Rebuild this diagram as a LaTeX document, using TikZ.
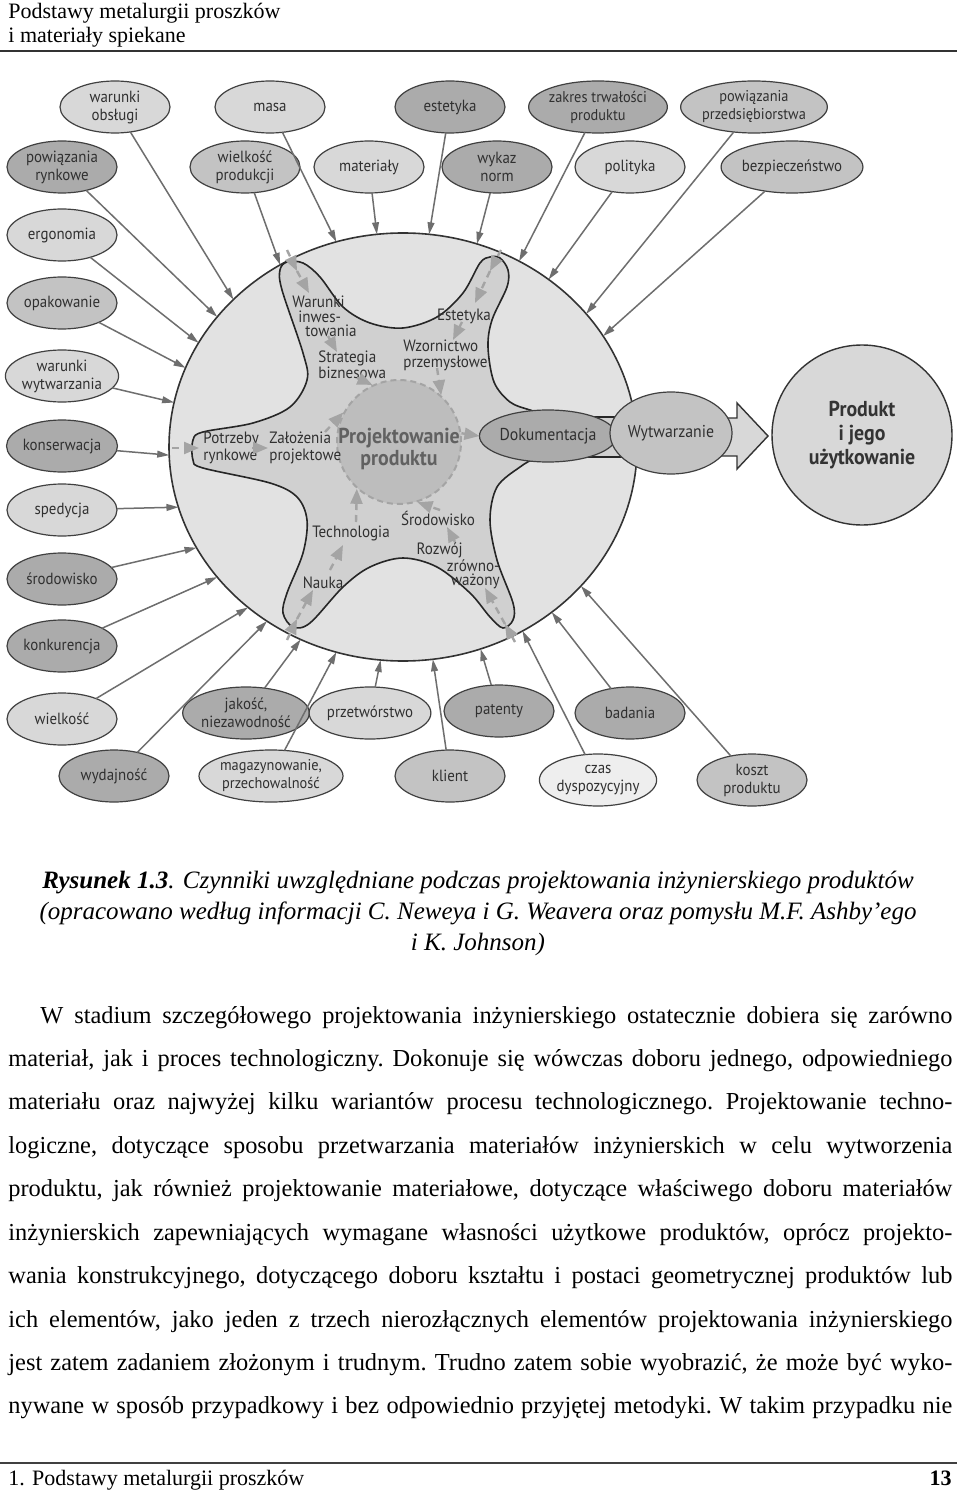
\documentclass[tikz,border=0pt]{standalone}
\usepackage{fontspec}
\setmainfont{Liberation Serif}
\newfontfamily\labf[FakeStretch=0.92]{PT Sans}
\usetikzlibrary{shapes.geometric,arrows.meta}
\definecolor{cA}{HTML}{D8D8D8}
\definecolor{cB}{HTML}{C3C3C3}
\definecolor{cC}{HTML}{ABABAB}
\definecolor{cD}{HTML}{EEEEEE}
\definecolor{bigfill}{HTML}{E2E2E2}
\definecolor{starfill}{HTML}{D0D0D0}
\definecolor{cenfill}{HTML}{BDBDBD}
\definecolor{dashcol}{HTML}{A4A4A4}
\definecolor{arrcol}{HTML}{6E6E6E}
\definecolor{txtcol}{HTML}{303030}
\tikzset{
  oe/.style={ellipse, draw=black!75, line width=0.6pt, minimum width=55pt, minimum height=26pt, inner sep=0pt, outer sep=0pt, align=center, font=\labf\fontsize{8.1}{9}\selectfont, text=txtcol},
  farr/.style={draw=arrcol, line width=0.75pt, -{Triangle[length=6pt,width=3.4pt]}},
  sarr/.style={draw=dashcol, line width=1.2pt, dash pattern=on 3.5pt off 2.5pt, -{Triangle[length=7.5pt,width=6pt]}},
  slab/.style={inner sep=0pt, font=\labf\fontsize{8.2}{8}\selectfont, text=txtcol},
}
\begin{document}
\begin{tikzpicture}[x=0.5pt,y=-0.5pt]
\useasboundingbox (0,0) rectangle (960,1492);
\fill[white] (0,0) rectangle (960,1492);

% header
\node[anchor=base west, inner sep=0pt, font=\fontsize{11}{12}\selectfont] (hd1) at (8,19) {Podstawy metalurgii proszków};
\node[anchor=base west, inner sep=0pt, font=\fontsize{11}{12}\selectfont] (hd2) at (8,43) {i materiały spiekane};
\draw[line width=1.1pt, black!80] (0,51) -- (957,51);

% big ellipse
\node[ellipse, draw=black!80, fill=bigfill, line width=0.8pt, minimum width=234pt, minimum height=214pt, inner sep=0pt, outer sep=0pt] (big) at (403,447) {};

% star
\filldraw[fill=starfill, draw=black!85, line width=0.8pt] plot[smooth, tension=0.55] coordinates {(555,417) (530,410) (510,402) (494,382) (488,347) (492,320) (507,287) (508,270) (500,258) (490,257) (480,263) (463,293) (437,317) (403,328) (370,323) (343,307) (320,277) (303,263) (287,262) (280,270) (282,290) (303,353) (307,380) (290,407) (253,423) (203,432) (193,440) (193,460) (203,468) (270,483) (297,497) (307,520) (303,553) (287,593) (283,613) (293,627) (310,623) (343,587) (370,567) (403,558) (437,567) (470,593) (490,617) (503,628) (513,620) (513,603) (497,560) (490,520) (497,487) (520,467) (535,459) (555,457)} -- (640,457) -- (640,417) -- cycle;

% centre
\node[circle, fill=cenfill, draw=dashcol, line width=1pt, dash pattern=on 3pt off 2pt, minimum size=62pt, inner sep=0pt] (cen) at (399,442) {};
\node[inner sep=0pt, align=center, font=\labf\bfseries\fontsize{10.8}{11}\selectfont, text=black!62] (centxt) at (399,449) {Projektowanie\\produktu};

% star labels
\node[slab, anchor=west, align=left, font=\labf\fontsize{8.2}{7.2}\selectfont] (lwar) at (292,316.5) {Warunki\\\hspace*{3pt}inwes-\\\hspace*{6.5pt}towania};
\node[slab, anchor=west, align=left] (lstr) at (318,364.5) {Strategia\\biznesowa};
\node[slab] (lest) at (464,316) {Estetyka};
\node[slab, anchor=west, align=left] (lwzo) at (403,355.5) {Wzornictwo\\przemysłowe};
\node[slab, anchor=west, align=left, font=\labf\fontsize{8.2}{8.5}\selectfont] (lpot) at (203,447.5) {Potrzeby\\rynkowe};
\node[slab, anchor=west, align=left, font=\labf\fontsize{8.2}{8.5}\selectfont] (lzal) at (269,447.5) {Założenia\\projektowe};
\node[slab] (lsro) at (438,518) {Środowisko};
\node[slab] (ltec) at (351,533) {Technologia};
\node[slab, anchor=east, align=right, font=\labf\fontsize{8.2}{6.8}\selectfont] (lroz) at (500,565.5) {Rozwój\hspace*{18.5pt}\\zrówno-\hspace*{5pt}\\ważony};
\node[slab] (lnau) at (323,583) {Nauka};

% documentation
\node[oe, fill=cC, font=\labf\fontsize{8.6}{9}\selectfont] (doc) at (548,436) {Dokumentacja};

% big arrow
\filldraw[fill=cA, draw=black!80, line width=0.7pt] (700,418) -- (737,418) -- (737,403) -- (768,436) -- (737,469) -- (737,456) -- (700,456) -- cycle;
\node[oe, fill=cB, minimum width=54pt, minimum height=41pt, font=\labf\fontsize{8.6}{9}\selectfont] (wyt) at (671,433) {Wytwarzanie};
\node[circle, draw=black!80, fill=cA, line width=0.7pt, minimum size=90pt, inner sep=0pt, align=center, font=\labf\bfseries\fontsize{10.8}{11.8}\selectfont, text=black!80] (prod) at (862,435) {Produkt\\i jego\\użytkowanie};

% star arrows
\coordinate (t1a) at (287,250); \coordinate (t1b) at (297,271); \coordinate (t1c) at (309,293);
\coordinate (s1) at (328,336); \coordinate (s2) at (337,352); \coordinate (s3) at (357,378);
\coordinate (t2a) at (501,250); \coordinate (t2b) at (490,271); \coordinate (t2c) at (475,303);
\coordinate (s4) at (462,322); \coordinate (s5) at (453,340); \coordinate (s6) at (437,368);
\coordinate (t3a) at (172,448); \coordinate (t3b) at (199,448);
\coordinate (s7) at (252,448); \coordinate (s8) at (268,448); \coordinate (s9) at (325,432);
\coordinate (t4a) at (287,640); \coordinate (t4b) at (297,619); \coordinate (t4c) at (313,590);
\coordinate (s10) at (330,570); \coordinate (s11) at (343,545); \coordinate (s12) at (356,522);
\coordinate (t5a) at (515,642); \coordinate (t5b) at (505,624); \coordinate (t5c) at (485,588);
\coordinate (s13) at (455,542); \coordinate (s14) at (447,527); \coordinate (s15) at (440,510);
\draw[sarr] (t1a) -- (t1b); \draw[sarr] (t1b) -- (t1c);
\draw[sarr] (s1) -- (s2); \draw[sarr] (s3) -- (cen.115);
\draw[sarr] (t2a) -- (t2b); \draw[sarr] (t2b) -- (t2c);
\draw[sarr] (s4) -- (s5); \draw[sarr] (s6) -- (cen.48);
\draw[sarr] (cen.8) -- (doc.west);
\draw[sarr] (t3a) -- (t3b); \draw[sarr] (s7) -- (s8); \draw[sarr] (s9) -- (cen.152);
\draw[sarr] (t4a) -- (t4b); \draw[sarr] (t4b) -- (t4c);
\draw[sarr] (s10) -- (s11); \draw[sarr] (s12) -- (cen.228);
\draw[sarr] (t5a) -- (t5b); \draw[sarr] (t5b) -- (t5c);
\draw[sarr] (s13) -- (s14); \draw[sarr] (s15) -- (cen.287);

% outer factors
\node[oe, fill=cA] (wo) at (115,107) {warunki\\obsługi};
\node[oe, fill=cA] (ma) at (270,107) {masa};
\node[oe, fill=cC] (es) at (450,107) {estetyka};
\node[oe, fill=cC, font=\labf\fontsize{7.8}{9}\selectfont] (zt) at (598,107) {zakres trwałości\\produktu};
\node[oe, fill=cB, font=\labf\fontsize{7.8}{9}\selectfont] (pp) at (754,107) {powiązania\\przedsiębiorstwa};
\node[oe, fill=cC] (pr) at (62,167) {powiązania\\rynkowe};
\node[oe, fill=cB] (wp) at (245,167) {wielkość\\produkcji};
\node[oe, fill=cA] (mt) at (369,167) {materiały};
\node[oe, fill=cC] (wn) at (497,167) {wykaz\\norm};
\node[oe, fill=cA] (po) at (630,167) {polityka};
\node[oe, fill=cB] (bz) at (792,167) {bezpieczeństwo};
\node[oe, fill=cA] (er) at (62,235) {ergonomia};
\node[oe, fill=cB] (op) at (62,303) {opakowanie};
\node[oe, fill=cA] (ww) at (62,376) {warunki\\wytwarzania};
\node[oe, fill=cC] (ko) at (62,446) {konserwacja};
\node[oe, fill=cA] (sp) at (62,510) {spedycja};
\node[oe, fill=cC] (sr) at (62,579) {środowisko};
\node[oe, fill=cC] (kn) at (62,646) {konkurencja};
\node[oe, fill=cA] (wi) at (62,719) {wielkość};
\node[oe, fill=cC] (wy) at (114,776) {wydajność};
\node[oe, fill=cC] (ja) at (246,713) {jakość,\\niezawodność};
\node[oe, fill=cA, font=\labf\fontsize{7.8}{9}\selectfont] (mg) at (271,776) {magazynowanie,\\przechowalność};
\node[oe, fill=cA] (pt) at (370,713) {przetwórstwo};
\node[oe, fill=cB] (kl) at (450,776) {klient};
\node[oe, fill=cC] (pa) at (499,711) {patenty};
\node[oe, fill=cC] (ba) at (630,713) {badania};
\node[oe, fill=cD] (cz) at (598,780) {czas\\dyspozycyjny};
\node[oe, fill=cB] (kp) at (752,780) {koszt\\produktu};

\draw[farr] (wo) -- (big.139.7);
\draw[farr] (ma) -- (big.108.4);
\draw[farr] (pr) -- (big.145.3);
\draw[farr] (er) -- (big.153.3);
\draw[farr] (wp) -- (big.124.3);
\draw[farr] (mt) -- (big.97.5);
\draw[farr] (es) -- (big.83.6);
\draw[farr] (wn) -- (big.70);
\draw[farr] (zt) -- (big.58.4);
\draw[farr] (po) -- (big.49.2);
\draw[farr] (pp) -- (big.36);
\draw[farr] (bz) -- (big.29.7);
\draw[farr] (op) -- (big.160.6);
\draw[farr] (ww) -- (big.169.8);
\draw[farr] (ko) -- (big.182.2);
\draw[farr] (sp) -- (big.195);
\draw[farr] (sr) -- (big.206.9);
\draw[farr] (kn) -- (big.215);
\draw[farr] (wi) -- (big.226.3);
\draw[farr] (wy) -- (big.232.4);
\draw[farr] (ja) -- (big.242.1);
\draw[farr] (mg) -- (big.252.2);
\draw[farr] (pt) -- (big.264.6);
\draw[farr] (kl) -- (big.278.6);
\draw[farr] (pa) -- (big.291.7);
\draw[farr] (cz) -- (big.303.3);
\draw[farr] (ba) -- (big.312.5);
\draw[farr] (kp) -- (big.322.2);

% caption
\node[anchor=base, inner sep=0pt] (cap) at (478,888) {\parbox[t]{480pt}{\centering\itshape\fontsize{12.5}{15.5}\selectfont \textbf{Rysunek 1.3}. Czynniki uwzględniane podczas projektowania inżynierskiego produktów\\(opracowano według informacji C. Neweya i G. Weavera oraz pomysłu M.F. Ashby{\char"27}ego\\i K. Johnson)}};

% body text
\node[anchor=base west, inner sep=0pt] (body) at (8,1023) {\parbox[t]{472pt}{\fontsize{12.2}{21.72}\selectfont\frenchspacing\tolerance=10000\hyphenpenalty=10000\parfillskip=0pt\noindent\hspace*{16pt}W stadium szczegółowego projektowania inżynierskiego ostatecznie dobiera się zarówno\linebreak materiał, jak i proces technologiczny. Dokonuje się wówczas doboru jednego, odpowiedniego\linebreak materiału oraz najwyżej kilku wariantów procesu technologicznego. Projektowanie techno-\linebreak logiczne, dotyczące sposobu przetwarzania materiałów inżynierskich w celu wytworzenia\linebreak produktu, jak również projektowanie materiałowe, dotyczące właściwego doboru materiałów\linebreak inżynierskich zapewniających wymagane własności użytkowe produktów, oprócz projekto-\linebreak wania konstrukcyjnego, dotyczącego doboru kształtu i postaci geometrycznej produktów lub\linebreak ich elementów, jako jeden z trzech nierozłącznych elementów projektowania inżynierskiego\linebreak jest zatem zadaniem złożonym i trudnym. Trudno zatem sobie wyobrazić, że może być wyko-\linebreak nywane w sposób przypadkowy i bez odpowiednio przyjętej metodyki. W takim przypadku nie}};

% footer
\draw[line width=0.8pt, black!75] (0,1463) -- (957,1463);
\node[anchor=base west, inner sep=0pt, font=\fontsize{11}{12}\selectfont] (ft1) at (8,1485) {1. Podstawy metalurgii proszków};
\node[anchor=base east, inner sep=0pt, font=\bfseries\fontsize{11}{12}\selectfont] (ft2) at (952,1485) {13};
\end{tikzpicture}
\end{document}
